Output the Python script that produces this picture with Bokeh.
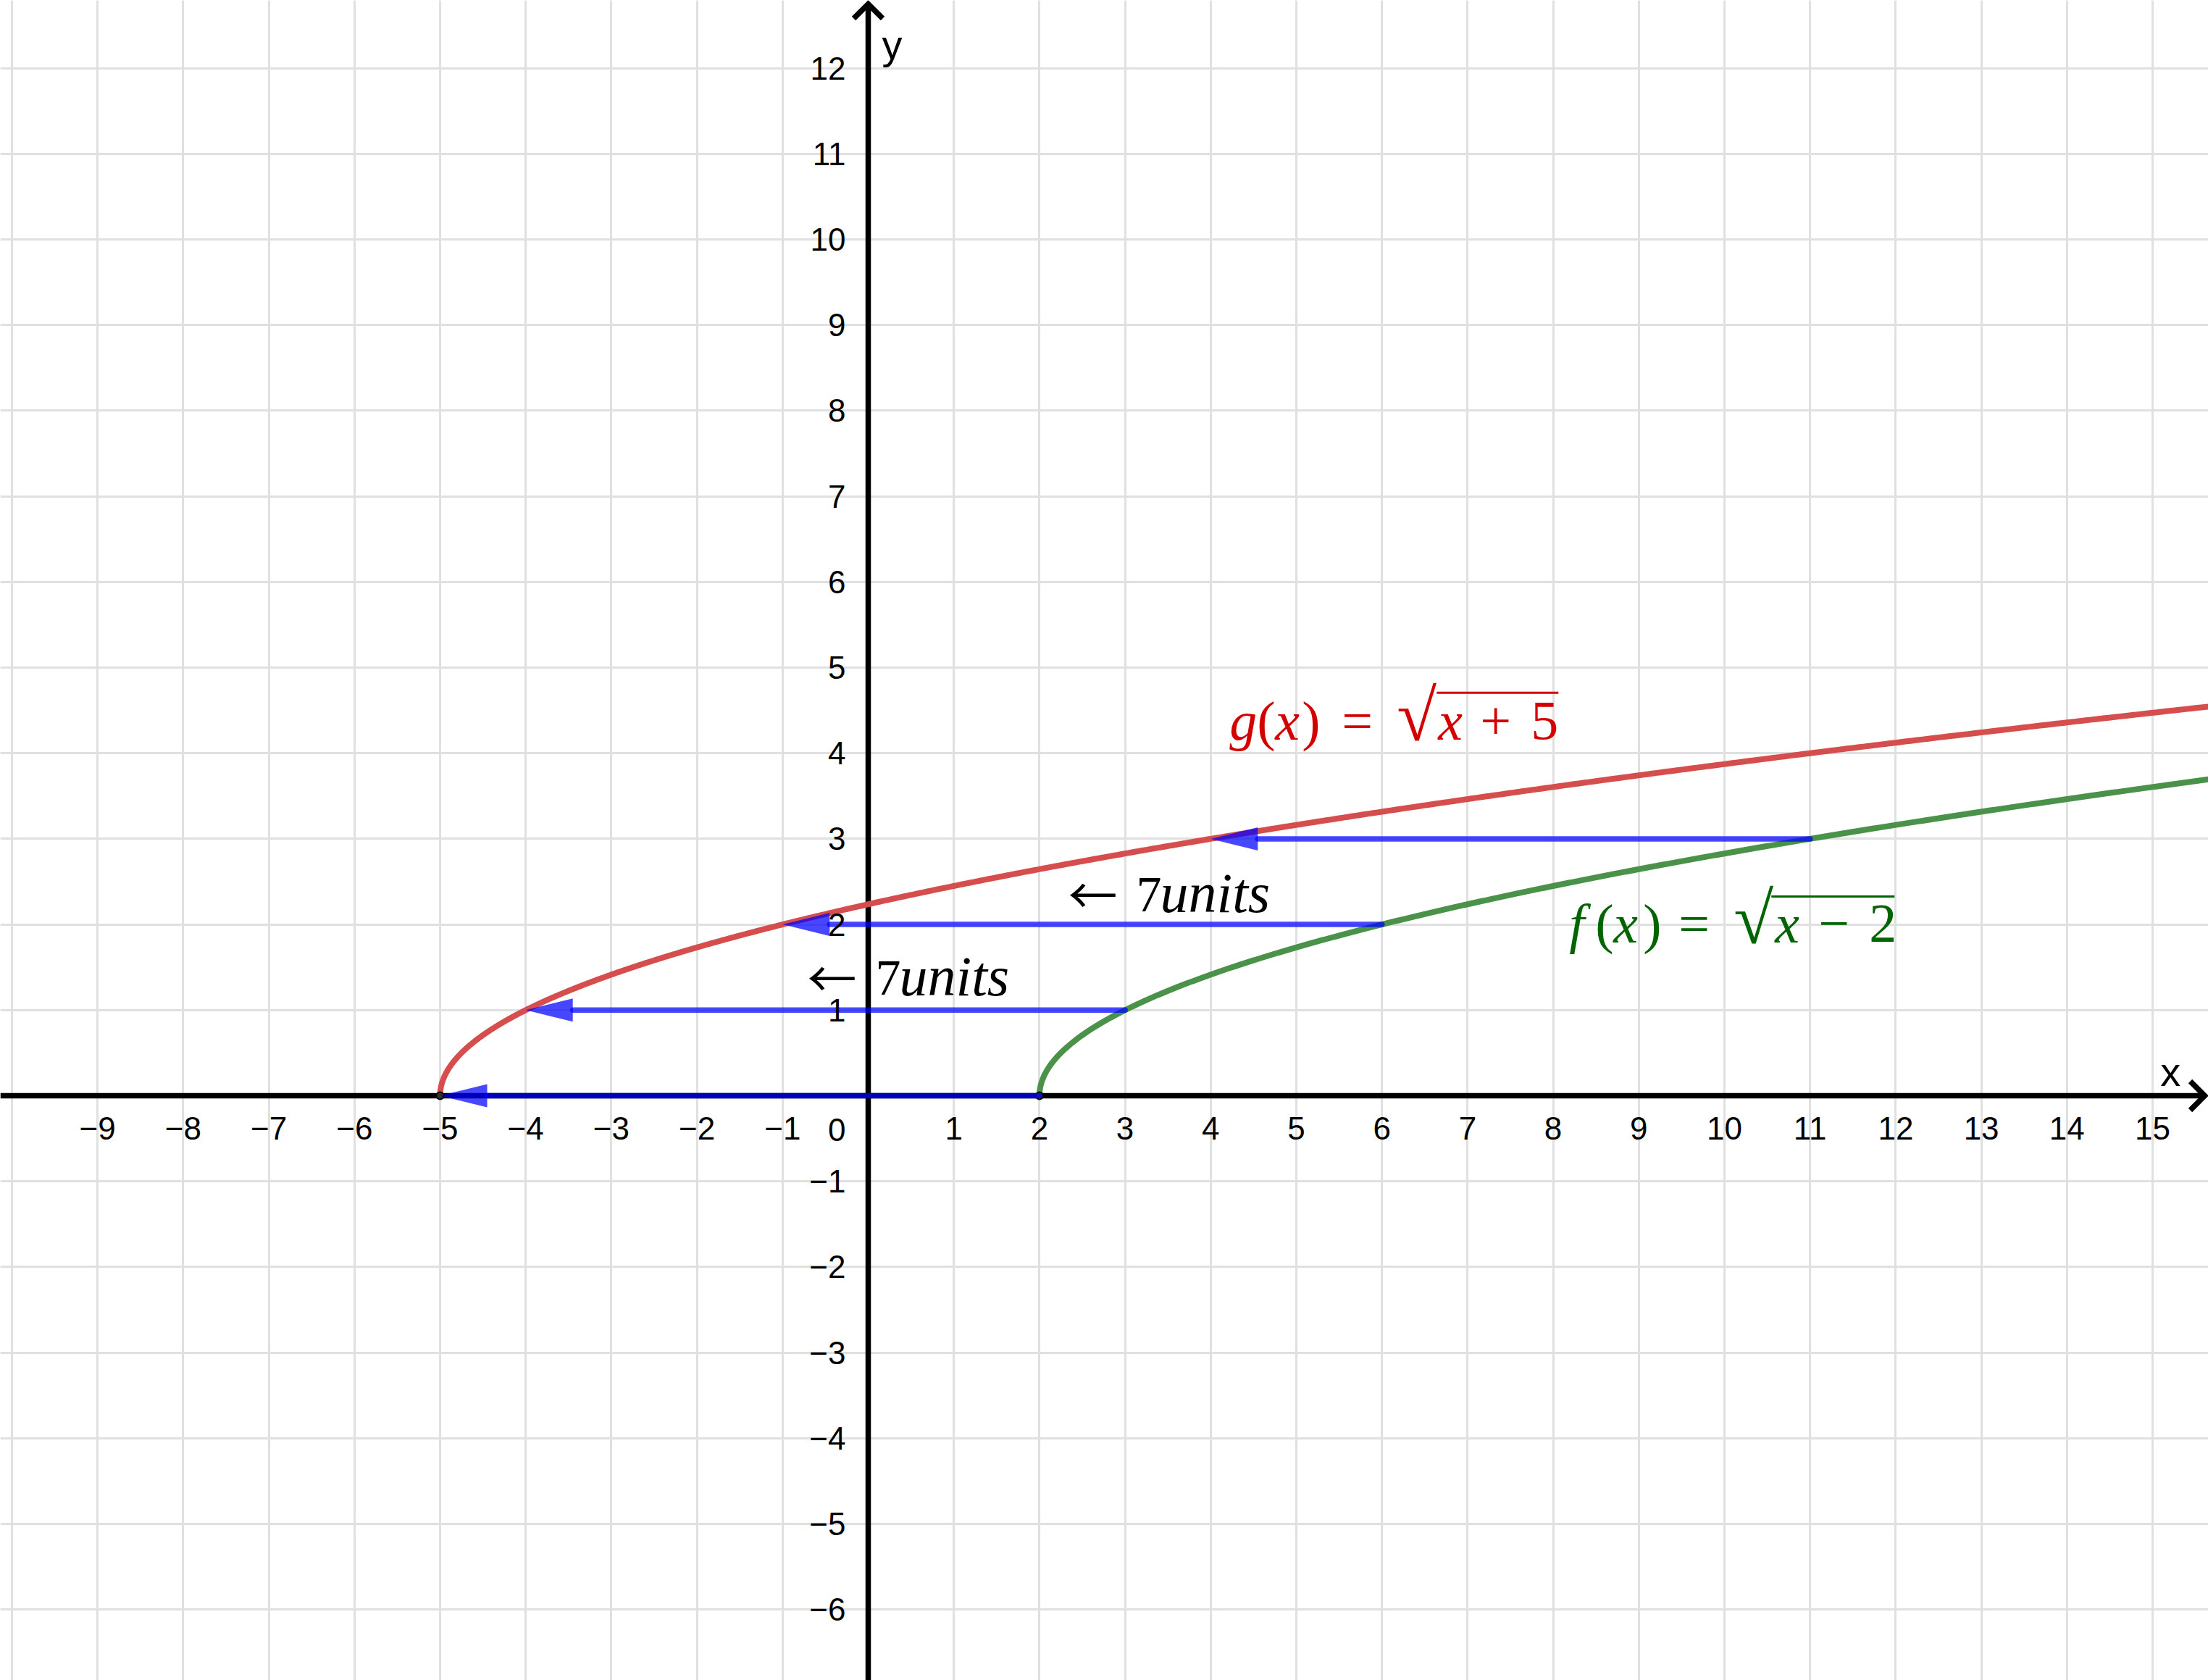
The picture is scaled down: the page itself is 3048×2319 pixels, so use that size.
import numpy as np
from bokeh.plotting import figure
from bokeh.models import ColumnDataSource, Range1d, FixedTicker, LinearAxis
from bokeh.core.properties import value
from bokeh.embed import file_html
from bokeh.resources import INLINE

# ---------------- data ----------------
x_ticks = [-9, -8, -7, -6, -5, -4, -3, -2, -1, 1, 2, 3, 4, 5, 6, 7, 8, 9, 10, 11, 12, 13, 14, 15]
x_tick_labels = ["−9", "−8", "−7", "−6", "−5", "−4", "−3", "−2", "−1", "1", "2", "3", "4", "5",
                 "6", "7", "8", "9", "10", "11", "12", "13", "14", "15"]
y_ticks = [-6, -5, -4, -3, -2, -1, 1, 2, 3, 4, 5, 6, 7, 8, 9, 10, 11, 12]
y_tick_labels = ["−6", "−5", "−4", "−3", "−2", "−1", "1", "2", "3", "4", "5", "6", "7", "8",
                 "9", "10", "11", "12"]
grid_x = list(range(-10, 16))
grid_y = list(range(-6, 13))

f_shift = 2        # f(x) = sqrt(x - 2)
g_shift = -5       # g(x) = sqrt(x + 5)

arrow_start_x = [2, 3, 6, 11]
arrow_end_x = [-5, -4, -1, 4]
arrow_y = [0, 1, 2, 3]

vertex_x = [-5, 2]
vertex_y = [0, 0]

g_parts = ["g", "(", "x", ")", "=", "√", "x", "+", "5"]
f_parts = ["f", "(", "x", ")", "=", "√", "x", "−", "2"]
shift_parts = ["←", "7", "units"]

# ---------------- layout ----------------
W, H = 3048, 2319
PPU = 118.2
X0 = -1198 / PPU
X1 = X0 + W / PPU
Y1 = 1512 / PPU
Y0 = Y1 - H / PPU
ppu = W / (X1 - X0)
BASE = 0.29   # raise of alphabetic text, in em

p = figure(width=W, height=H, x_range=Range1d(X0, X1), y_range=Range1d(Y0, Y1),
           output_backend="svg", toolbar_location=None, min_border=0,
           x_axis_location=None, y_axis_location=None)
p.outline_line_color = None
p.background_fill_color = "white"
p.border_fill_color = "white"

p.xgrid.ticker = FixedTicker(ticks=grid_x)
p.ygrid.ticker = FixedTicker(ticks=grid_y)
p.grid.grid_line_color = "#e0e0e0"
p.grid.grid_line_width = 3

sans = "Liberation Sans"
xaxis = LinearAxis(ticker=FixedTicker(ticks=x_ticks), fixed_location=0)
xaxis.major_label_overrides = {t: s for t, s in zip(x_ticks, x_tick_labels)}
yaxis = LinearAxis(ticker=FixedTicker(ticks=y_ticks), fixed_location=0)
yaxis.major_label_overrides = {t: s for t, s in zip(y_ticks, y_tick_labels)}
for ax, so in ((xaxis, 29), (yaxis, 31)):
    ax.axis_line_color = None
    ax.major_tick_line_color = None
    ax.minor_tick_line_color = None
    ax.major_tick_in = 0
    ax.major_tick_out = 0
    ax.major_label_standoff = so
    ax.major_label_text_font = sans
    ax.major_label_text_font_size = "44px"
    ax.major_label_text_color = "black"
p.add_layout(xaxis, "below")
p.add_layout(yaxis, "left")

# axis lines with open arrow heads
x_tip = X1 - 5 / ppu
y_tip = Y1 - 5 / ppu
head = 20 / ppu
p.segment(x0=[X0, 0], y0=[0, Y0], x1=[x_tip, 0], y1=[0, y_tip],
          line_color="black", line_width=7.5)
p.multi_line(xs=[[x_tip - head, x_tip, x_tip - head], [-head, 0, head]],
             ys=[[head, 0, -head], [y_tip - head, y_tip, y_tip - head]],
             line_color="black", line_width=7.5, line_join="miter")

# origin label and axis names
p.text(x=[0], y=[0], text=["0"], x_offset=-31, y_offset=60 - BASE * 44, text_align="right",
       text_baseline="alphabetic", text_font=value(sans), text_font_size="44px",
       text_color="black")
p.text(x=[15.21], y=[0.144], text=["x"], y_offset=-BASE * 56, text_align="center",
       text_baseline="alphabetic", text_font=value(sans), text_font_size="56px",
       text_color="black")
p.text(x=[0.16], y=[12.14], text=["y"], y_offset=-BASE * 56, text_align="left",
       text_baseline="alphabetic", text_font=value(sans), text_font_size="56px",
       text_color="black")

# curves
t = np.linspace(0, 1, 600) ** 2
gx = g_shift + (X1 + 0.5 - g_shift) * t
fx = f_shift + (X1 + 0.5 - f_shift) * t
p.line(gx, np.sqrt(gx - g_shift), line_color="#d64d4d", line_width=8)
p.line(fx, np.sqrt(fx - f_shift), line_color="#4a914a", line_width=8)
p.scatter(vertex_x, vertex_y, size=10, fill_color="#333333", line_color="black", line_width=2)

# translation arrows
L = 65 / ppu
Wh = 16 / ppu
bases, hx, hy = [], [], []
for sx, ex, yy in zip(arrow_start_x, arrow_end_x, arrow_y):
    d = 1 if ex > sx else -1
    b = ex - d * L
    bases.append(b)
    hx.append([ex, b, b])
    hy.append([yy, yy + Wh, yy - Wh])
p.segment(x0=arrow_start_x, y0=arrow_y, x1=bases, y1=arrow_y, line_color="#0000ff",
          line_alpha=0.72, line_width=7.5, line_cap="round")
p.patches(hx, hy, fill_color="#0000ff", fill_alpha=0.72, line_color=None)

# formula labels
SERIF = "Liberation Serif"


def formula(parts, offsets, styles, sizes, fonts, ax, ay, color, bar=None, yshift=None):
    n = len(parts)
    yshift = yshift or [0] * n
    src = ColumnDataSource(dict(x=[ax] * n, y=[ay] * n, text=parts, xoff=offsets,
                                yoff=[-BASE * s + d for s, d in zip(sizes, yshift)],
                                style=styles, size=["%dpx" % s for s in sizes], font=fonts))
    p.text(x="x", y="y", text="text", x_offset="xoff", y_offset="yoff",
           text_font_style="style", text_font_size="size", text_font="font", source=src,
           text_color=color, text_baseline="alphabetic", text_align="left")
    if bar is not None:
        b0, b1, bh = bar
        p.segment(x0=[ax + b0 / ppu], y0=[ay + bh / ppu], x1=[ax + b1 / ppu],
                  y1=[ay + bh / ppu], line_color=color, line_width=3)


it, nm = "italic", "normal"
fs, rs = 76, 100
formula(g_parts, [0, 38, 63, 100, 155, 231, 288, 346, 416],
        [it, nm, it, nm, nm, nm, it, nm, nm], [fs] * 5 + [rs] + [fs] * 3, [SERIF] * 9,
        4.22, 4.19, "#d40000", bar=(286, 454, 61))
formula(f_parts, [8, 44, 69, 110, 159, 235, 292, 352, 422],
        [it, nm, it, nm, nm, nm, it, nm, nm], [fs] * 5 + [rs] + [fs] * 3, [SERIF] * 9,
        8.12, 1.82, "#006400", bar=(287, 457, 60))
for ax_, ay_ in ((2.369, 2.174), (-0.677, 1.201)):
    formula(shift_parts, [-4, 90, 123], [nm, nm, it], [68, 70, 78],
            ["Noto Sans CJK JP", SERIF, SERIF], ax_, ay_, "black", yshift=[-3, 0, 0])

open("out.html", "w").write(file_html(p, INLINE))
